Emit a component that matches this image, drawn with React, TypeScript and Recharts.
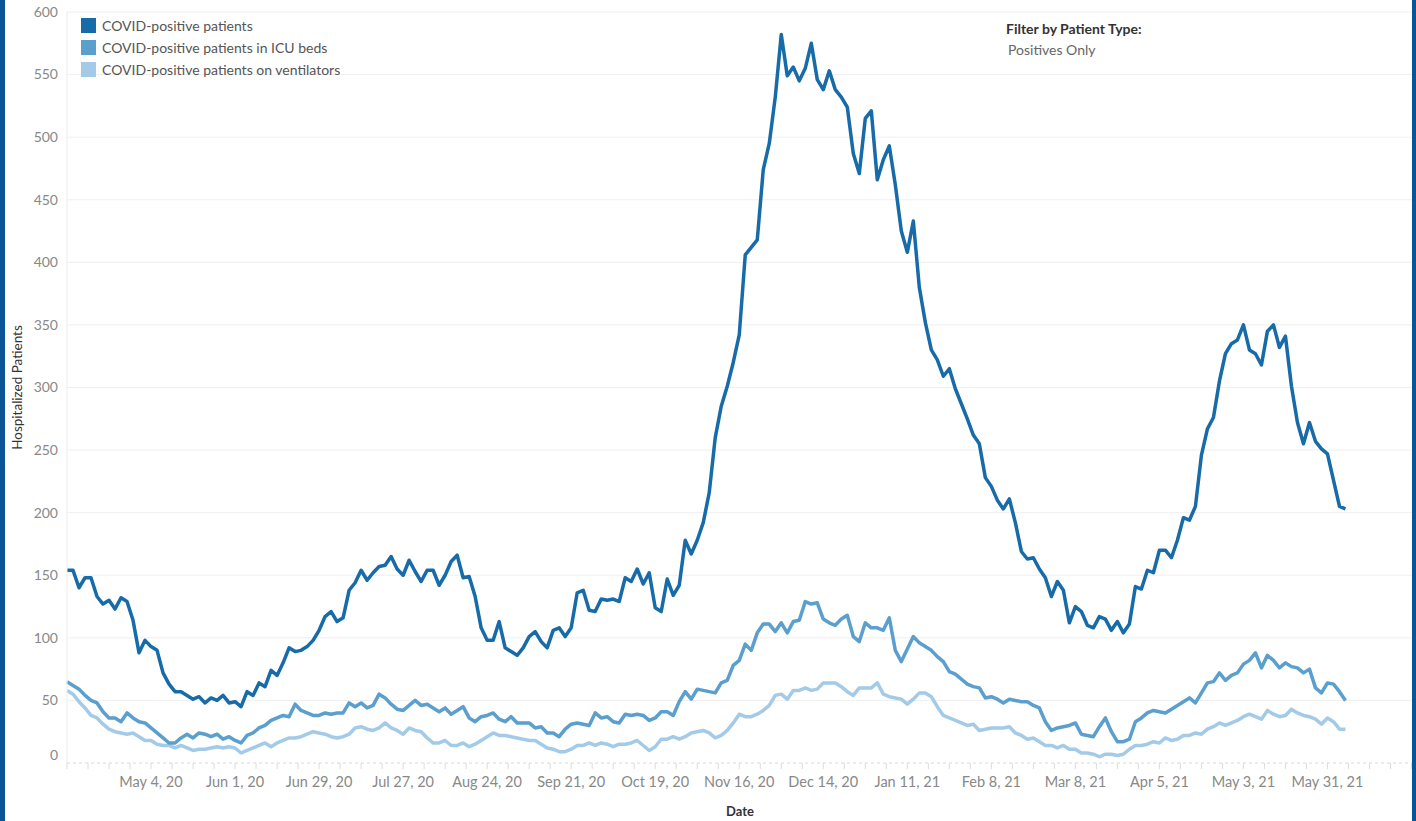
import React from 'react';
import { LineChart, Line, XAxis, YAxis, CartesianGrid } from 'recharts';

// daily series sampled every 2 days, starting Monday 6 Apr 2020
const STEP_DAYS = 2;

const positivePatients = [
  154, 154, 140, 148, 148, 133, 127, 130, 123, 132, 129, 114, 88, 98, 93, 90, 72, 63, 57, 57,
  54, 51, 53, 48, 52, 50, 54, 48, 49, 45, 57, 54, 64, 61, 74, 70, 80, 92, 89, 90,
  93, 98, 106, 117, 121, 113, 116, 138, 144, 154, 146, 152, 157, 158, 165, 155, 150, 162, 153, 145,
  154, 154, 142, 150, 161, 166, 148, 149, 133, 108, 98, 98, 113, 92, 89, 86, 92, 101, 105, 97,
  92, 106, 108, 101, 108, 136, 138, 122, 121, 131, 130, 131, 129, 148, 145, 155, 143, 152, 124, 121,
  147, 134, 142, 178, 167, 178, 192, 216, 260, 285, 301, 320, 342, 406, 412, 418, 474, 495, 532, 582,
  549, 556, 545, 555, 575, 546, 538, 553, 538, 532, 524, 487, 471, 515, 521, 466, 482, 493, 462, 425,
  408, 433, 380, 352, 330, 322, 309, 315, 299, 287, 275, 262, 255, 228, 221, 210, 203, 211, 192, 169,
  163, 164, 155, 148, 133, 145, 138, 112, 125, 121, 110, 108, 117, 115, 106, 113, 104, 111, 141, 139,
  154, 152, 170, 170, 164, 178, 196, 194, 205, 246, 267, 276, 305, 327, 335, 338, 350, 330, 327, 318,
  345, 350, 332, 341, 301, 272, 255, 272, 257, 251, 247, 226, 205, 203,
];

const icuPatients = [
  65, 62, 59, 54, 50, 48, 41, 36, 36, 33, 40, 36, 33, 32, 28, 24, 20, 16, 16, 20,
  23, 20, 24, 23, 21, 23, 19, 21, 18, 16, 22, 24, 28, 30, 34, 36, 38, 37, 47, 42,
  40, 38, 38, 40, 39, 40, 40, 48, 45, 48, 44, 46, 55, 52, 47, 43, 42, 46, 50, 46,
  47, 44, 41, 44, 39, 42, 45, 36, 33, 37, 38, 40, 35, 33, 37, 32, 32, 32, 28, 29,
  24, 24, 21, 27, 31, 32, 31, 30, 40, 36, 37, 33, 32, 39, 38, 39, 38, 34, 36, 41,
  41, 38, 49, 57, 51, 59, 58, 57, 56, 64, 66, 78, 82, 95, 90, 104, 111, 111, 105, 112,
  104, 113, 114, 129, 127, 128, 115, 112, 110, 115, 118, 101, 97, 112, 108, 108, 106, 116, 90, 81,
  91, 101, 96, 93, 90, 85, 81, 73, 71, 67, 63, 61, 60, 52, 53, 51, 48, 51, 50, 49,
  49, 46, 44, 33, 26, 28, 29, 30, 32, 23, 22, 21, 29, 36, 25, 17, 17, 19, 33, 36,
  40, 42, 41, 40, 43, 46, 49, 52, 48, 56, 64, 65, 72, 66, 70, 72, 79, 82, 88, 76,
  86, 82, 76, 80, 77, 76, 72, 75, 60, 56, 64, 63, 57, 50,
];

const ventilatorPatients = [
  58, 55, 49, 44, 38, 36, 31, 27, 25, 24, 23, 24, 21, 18, 18, 15, 14, 14, 12, 14,
  12, 10, 11, 11, 12, 13, 12, 13, 12, 8, 10, 12, 14, 16, 13, 16, 18, 20, 20, 21,
  23, 25, 24, 23, 21, 20, 21, 23, 28, 29, 27, 26, 28, 32, 28, 26, 23, 28, 26, 25,
  20, 16, 16, 18, 14, 14, 16, 13, 15, 18, 21, 24, 22, 22, 21, 20, 19, 18, 18, 15,
  12, 11, 9, 9, 11, 14, 14, 16, 14, 16, 15, 13, 15, 15, 16, 18, 14, 10, 13, 19,
  19, 21, 19, 21, 24, 25, 26, 24, 20, 22, 26, 32, 39, 37, 37, 39, 42, 46, 54, 55,
  51, 58, 58, 60, 58, 59, 64, 64, 64, 61, 57, 54, 60, 60, 60, 64, 55, 53, 52, 51,
  47, 51, 56, 56, 53, 45, 38, 36, 34, 32, 30, 31, 26, 27, 28, 28, 28, 29, 24, 22,
  19, 20, 17, 14, 14, 12, 14, 11, 11, 8, 8, 7, 5, 7, 7, 6, 7, 11, 14, 14,
  15, 17, 16, 20, 18, 19, 22, 22, 24, 23, 27, 29, 32, 30, 32, 34, 37, 39, 37, 35,
  42, 39, 37, 38, 43, 40, 38, 37, 35, 31, 36, 33, 27, 27,
];

const xTickDays = [28, 56, 84, 112, 140, 168, 196, 224, 252, 280, 308, 336, 364, 392, 420];
const xTickLabels = [
  'May 4, 20', 'Jun 1, 20', 'Jun 29, 20', 'Jul 27, 20', 'Aug 24, 20', 'Sep 21, 20', 'Oct 19, 20',
  'Nov 16, 20', 'Dec 14, 20', 'Jan 11, 21', 'Feb 8, 21', 'Mar 8, 21', 'Apr 5, 21', 'May 3, 21', 'May 31, 21',
];
const yTicks = [0, 50, 100, 150, 200, 250, 300, 350, 400, 450, 500, 550, 600];

const series = [
  { key: 'vent', name: 'COVID-positive patients on ventilators', color: '#a3cbe8' },
  { key: 'icu', name: 'COVID-positive patients in ICU beds', color: '#5a9fcd' },
  { key: 'positive', name: 'COVID-positive patients', color: '#176ba8' },
];

// weekly minor ticks on the date axis
const weekTicks: number[] = [];
for (let d = 0; d <= 448; d += 7) weekTicks.push(d);

const data = positivePatients.map((v, i) => ({
  day: i * STEP_DAYS,
  positive: v,
  icu: icuPatients[i],
  vent: ventilatorPatients[i],
}));

const FONT = "Lato, 'Open Sans', sans-serif";

const XTick = (props: any) => {
  const { x, y, payload } = props;
  const idx = xTickDays.indexOf(payload.value);
  if (idx < 0) return null;
  return (
    <text x={x} y={y} dy="0.71em" textAnchor="middle" fontSize={14.5} fill="#888" fontFamily={FONT}>
      {xTickLabels[idx]}
    </text>
  );
};

const YTick = (props: any) => {
  const { x, y, payload } = props;
  // tableau lifts the bottom label so it isn't clipped
  const shift = payload.value === 0 ? -8 : 0;
  return (
    <text x={x} y={y + shift} dy="0.35em" textAnchor="end" fontSize={14} fill="#888" fontFamily={FONT}>
      {payload.value}
    </text>
  );
};

const YTitle = (props: any) => {
  const vb = props.viewBox;
  const cx = 17;
  const cy = vb.y + vb.height / 2;
  return (
    <text x={cx} y={cy} transform={`rotate(-90 ${cx} ${cy})`} textAnchor="middle" dominantBaseline="central"
      fontSize={13.5} fill="#333" fontFamily={FONT}>
      Hospitalized Patients
    </text>
  );
};

export default function App() {
  return (
    <div style={{ position: 'absolute', left: 0, top: 0, width: 1416, height: 821, background: '#fff', overflow: 'hidden' }}>
      <LineChart width={1416} height={821} data={data} margin={{ top: 12, right: 3, bottom: 0, left: 0 }}>
        <CartesianGrid vertical={false} stroke="#efefef" horizontalValues={yTicks.filter((t) => t > 0)} />
        <XAxis
          dataKey="day"
          type="number"
          domain={[0, 448.5]}
          ticks={weekTicks}
          interval={0}
          height={58}
          tickSize={6}
          tickMargin={8}
          tickLine={{ stroke: '#dcdcdc' }}
          axisLine={{ stroke: '#d8d8d8', strokeDasharray: '3 3' }}
          tick={<XTick />}
          label={{ value: 'Date', position: 'insideBottom', offset: 5, fill: '#333', fontSize: 13, fontWeight: 'bold', fontFamily: FONT }}
        />
        <YAxis
          type="number"
          domain={[0, 600]}
          ticks={yTicks}
          interval={0}
          width={67}
          tickSize={0}
          tickMargin={9}
          tickLine={false}
          axisLine={{ stroke: '#ececec' }}
          tick={<YTick />}
          label={<YTitle />}
        />
        {series.map((s) => (
          <Line
            key={s.key}
            type="linear"
            dataKey={s.key}
            name={s.name}
            stroke={s.color}
            strokeWidth={3.5}
            strokeLinejoin="round"
            dot={false}
            activeDot={false}
            isAnimationActive={false}
          />
        ))}
      </LineChart>
      <div style={{ position: 'absolute', left: 81, top: 14, fontFamily: FONT, fontSize: 14, color: '#555' }}>
        {[...series].reverse().map((s) => (
          <div key={s.key} style={{ display: 'flex', alignItems: 'center', height: 22.3 }}>
            <span style={{ width: 15, height: 15, background: s.color, display: 'inline-block', marginRight: 6 }} />
            <span>{s.name}</span>
          </div>
        ))}
      </div>
      <div style={{ position: 'absolute', left: 1006, top: 20, fontFamily: FONT, fontSize: 14, fontWeight: 'bold', color: '#333' }}>
        Filter by Patient Type:
      </div>
      <div style={{ position: 'absolute', left: 1008, top: 41, fontFamily: FONT, fontSize: 14, color: '#666' }}>
        Positives Only
      </div>
      <div style={{ position: 'absolute', left: 0, top: 0, width: 5, height: 821, background: '#0b5596' }} />
      <div style={{ position: 'absolute', left: 1412, top: 0, width: 4, height: 821, background: '#0b5596' }} />
    </div>
  );
}
